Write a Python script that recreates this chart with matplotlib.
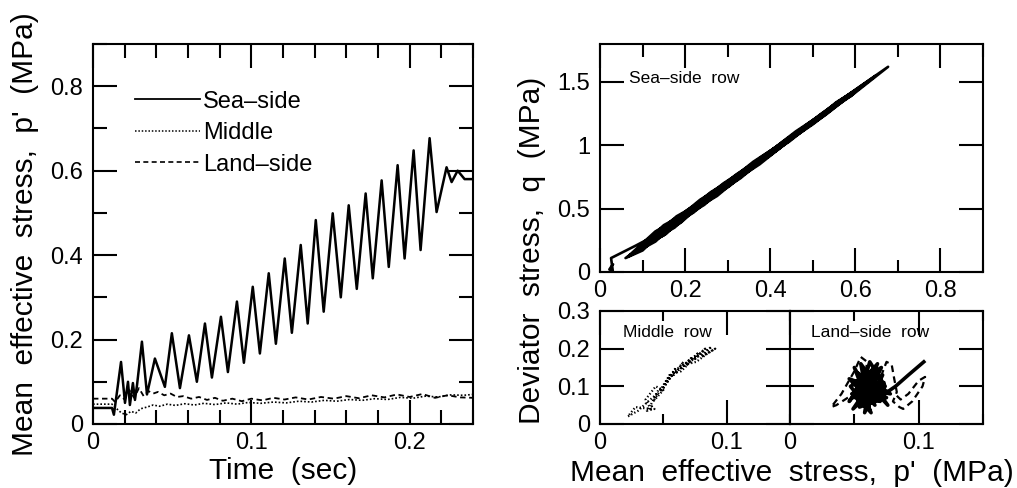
import matplotlib
matplotlib.use("Agg")
import matplotlib.pyplot as plt
from matplotlib.ticker import MultipleLocator, FuncFormatter, NullLocator
from matplotlib.lines import Line2D

plt.rcParams['font.family'] = ['Liberation Sans', 'DejaVu Sans']
plt.rcParams['axes.linewidth'] = 1.5

# ---- time histories of mean effective stress p' (MPa) ----
t_sea = [0, 0.012, 0.0132, 0.0177, 0.0202, 0.0221, 0.0233, 0.0252, 0.0265, 0.0278,
         0.0309, 0.0341, 0.0391, 0.0454, 0.0498, 0.0549, 0.0606, 0.0656, 0.0707, 0.0751,
         0.0808, 0.0852, 0.0909, 0.0953, 0.1009, 0.1054, 0.1110, 0.1155, 0.1211, 0.1256,
         0.1312, 0.1356, 0.1407, 0.1457, 0.1514, 0.1565, 0.1615, 0.1666, 0.1722, 0.1767,
         0.1823, 0.1868, 0.1924, 0.1968, 0.2025, 0.2069, 0.2126, 0.2170, 0.2233, 0.2265,
         0.2303, 0.2347, 0.2397]
p_sea = [0.038, 0.038, 0.022, 0.147, 0.050, 0.100, 0.045, 0.097, 0.057, 0.092,
         0.195, 0.070, 0.155, 0.088, 0.215, 0.085, 0.210, 0.100, 0.238, 0.110,
         0.254, 0.123, 0.290, 0.145, 0.325, 0.167, 0.357, 0.190, 0.392, 0.216,
         0.424, 0.238, 0.483, 0.266, 0.499, 0.300, 0.518, 0.320, 0.546, 0.345,
         0.577, 0.372, 0.613, 0.392, 0.648, 0.412, 0.677, 0.502, 0.608, 0.573,
         0.600, 0.580, 0.580]

t_mid = [0, 0.012, 0.015, 0.018, 0.021, 0.024, 0.027, 0.030, 0.034, 0.038,
         0.042, 0.047, 0.052, 0.058, 0.064, 0.070, 0.077, 0.084, 0.091, 0.098,
         0.106, 0.114, 0.122, 0.130, 0.138, 0.146, 0.154, 0.162, 0.170, 0.178,
         0.186, 0.194, 0.202, 0.210, 0.218, 0.226, 0.234, 0.240]
p_mid = [0.047, 0.047, 0.036, 0.026, 0.022, 0.030, 0.026, 0.036, 0.040, 0.045,
         0.042, 0.047, 0.044, 0.048, 0.045, 0.049, 0.046, 0.050, 0.047, 0.051,
         0.049, 0.052, 0.050, 0.054, 0.052, 0.056, 0.054, 0.058, 0.056, 0.060,
         0.058, 0.063, 0.061, 0.066, 0.064, 0.069, 0.068, 0.070]

t_land = [0, 0.012, 0.014, 0.017, 0.020, 0.023, 0.026, 0.029, 0.032, 0.035,
          0.038, 0.041, 0.045, 0.049, 0.053, 0.057, 0.062, 0.067, 0.072, 0.077,
          0.082, 0.088, 0.094, 0.100, 0.107, 0.114, 0.121, 0.128, 0.136, 0.144,
          0.152, 0.160, 0.168, 0.176, 0.184, 0.192, 0.200, 0.208, 0.216, 0.224,
          0.232, 0.240]
p_land = [0.060, 0.060, 0.052, 0.068, 0.058, 0.080, 0.062, 0.085, 0.066, 0.078,
          0.072, 0.076, 0.068, 0.072, 0.064, 0.066, 0.060, 0.064, 0.057, 0.062,
          0.055, 0.060, 0.054, 0.060, 0.056, 0.062, 0.058, 0.063, 0.058, 0.064,
          0.060, 0.066, 0.061, 0.068, 0.063, 0.070, 0.064, 0.071, 0.062, 0.068,
          0.063, 0.062]

# ---- stress paths (p', q) in MPa ----
sea_path_p = [0.030, 0.022, 0.030, 0.026, 0.085, 0.147, 0.100, 0.060, 0.100, 0.065,
              0.130, 0.195, 0.130, 0.070, 0.155, 0.088, 0.150, 0.215, 0.150, 0.085,
              0.150, 0.210, 0.155, 0.100, 0.170, 0.238, 0.175, 0.110, 0.180, 0.254,
              0.190, 0.123, 0.205, 0.290, 0.220, 0.145, 0.235, 0.325, 0.245, 0.167,
              0.260, 0.357, 0.275, 0.190, 0.290, 0.392, 0.305, 0.216, 0.320, 0.424,
              0.330, 0.238, 0.360, 0.483, 0.375, 0.266, 0.380, 0.499, 0.400, 0.300,
              0.410, 0.518, 0.420, 0.320, 0.430, 0.546, 0.445, 0.345, 0.460, 0.577,
              0.475, 0.372, 0.490, 0.613, 0.500, 0.392, 0.520, 0.648, 0.530, 0.412,
              0.545, 0.677, 0.590, 0.502, 0.555, 0.608, 0.590, 0.573, 0.600, 0.580]
sea_path_q = [0.060, 0.020, 0.010, 0.110, 0.210, 0.320, 0.170, 0.110, 0.200, 0.120,
              0.320, 0.440, 0.240, 0.130, 0.340, 0.180, 0.370, 0.490, 0.290, 0.170,
              0.360, 0.470, 0.300, 0.200, 0.410, 0.540, 0.350, 0.230, 0.440, 0.580,
              0.390, 0.260, 0.490, 0.670, 0.470, 0.320, 0.570, 0.760, 0.530, 0.370,
              0.630, 0.830, 0.600, 0.430, 0.700, 0.920, 0.680, 0.490, 0.770, 1.000,
              0.740, 0.540, 0.870, 1.140, 0.850, 0.610, 0.910, 1.180, 0.920, 0.700,
              0.980, 1.230, 0.970, 0.740, 1.030, 1.300, 1.030, 0.810, 1.110, 1.370,
              1.110, 0.870, 1.175, 1.460, 1.165, 0.920, 1.250, 1.550, 1.240, 0.970,
              1.310, 1.620, 1.390, 1.190, 1.340, 1.450, 1.390, 1.360, 1.430, 1.380]

mid_path_p = [0.045, 0.038, 0.030, 0.022, 0.028, 0.040, 0.036, 0.044, 0.050, 0.042,
              0.055, 0.048, 0.060, 0.052, 0.066, 0.058, 0.072, 0.063, 0.078, 0.068,
              0.083, 0.074, 0.088, 0.080, 0.091, 0.084, 0.076, 0.070, 0.064, 0.058,
              0.050, 0.046, 0.040, 0.043, 0.037, 0.041]
mid_path_q = [0.080, 0.060, 0.035, 0.020, 0.045, 0.040, 0.065, 0.100, 0.090, 0.060,
              0.130, 0.085, 0.150, 0.110, 0.165, 0.130, 0.175, 0.145, 0.190, 0.155,
              0.200, 0.170, 0.205, 0.178, 0.200, 0.185, 0.165, 0.160, 0.140, 0.135,
              0.095, 0.090, 0.050, 0.040, 0.035, 0.050]

land_solid_p = [0.060, 0.050, 0.066, 0.046, 0.070, 0.055, 0.062, 0.048, 0.072, 0.058,
                0.064, 0.046, 0.068, 0.054, 0.075, 0.052, 0.063, 0.047, 0.071, 0.060,
                0.066, 0.049, 0.069, 0.057, 0.076, 0.053, 0.065, 0.049, 0.073, 0.059,
                0.067, 0.051, 0.070, 0.061, 0.078, 0.056, 0.062, 0.074, 0.065, 0.082,
                0.092, 0.104]
land_solid_q = [0.060, 0.150, 0.050, 0.120, 0.090, 0.160, 0.035, 0.080, 0.130, 0.030,
                0.145, 0.060, 0.160, 0.045, 0.070, 0.115, 0.030, 0.100, 0.150, 0.070,
                0.125, 0.040, 0.105, 0.140, 0.050, 0.135, 0.080, 0.070, 0.110, 0.040,
                0.155, 0.090, 0.060, 0.120, 0.080, 0.095, 0.165, 0.100, 0.060, 0.100,
                0.130, 0.165]

land_dash_p = [0.045, 0.036, 0.032, 0.040, 0.050, 0.055, 0.060, 0.058, 0.062, 0.070,
               0.075, 0.079, 0.081, 0.083, 0.080, 0.085, 0.088, 0.095, 0.103, 0.105,
               0.100, 0.092, 0.086, 0.083]
land_dash_q = [0.070, 0.050, 0.045, 0.080, 0.140, 0.178, 0.165, 0.120, 0.090, 0.120,
               0.165, 0.158, 0.120, 0.085, 0.060, 0.045, 0.040, 0.060, 0.100, 0.125,
               0.115, 0.080, 0.065, 0.075]

series_labels = ['Sea\u2013side', 'Middle', 'Land\u2013side']

W, H = 1017, 488
fig = plt.figure(figsize=(W / 100, H / 100), dpi=100)


def box(x0, y0, x1, y1):
    return [x0 / W, 1 - y1 / H, (x1 - x0) / W, (y1 - y0) / H]


def fmt(v, pos):
    return f"{round(v, 3):g}"


def style(ax, fs=17, major_len=15, minor_len=8):
    ax.tick_params(which='both', direction='in', top=True, right=True,
                   labelsize=fs, width=1.5, colors='black')
    ax.tick_params(which='major', length=major_len)
    ax.tick_params(which='minor', length=minor_len)
    ax.tick_params(axis='x', pad=6)
    ax.tick_params(axis='y', pad=7)
    ax.xaxis.set_major_formatter(FuncFormatter(fmt))
    ax.yaxis.set_major_formatter(FuncFormatter(fmt))


# ---- left panel: time histories ----
ax1 = fig.add_axes(box(93, 44, 473, 424))
ax1.plot(t_sea, p_sea, color='black', lw=1.8, ls='-', solid_joinstyle='round')
ax1.plot(t_mid, p_mid, color='black', lw=1.2, ls=(0, (1, 1.2)))
ax1.plot(t_land, p_land, color='black', lw=1.3, ls=(0, (3, 2)))
ax1.set_xlim(0, 0.24)
ax1.set_ylim(0, 0.9)
ax1.xaxis.set_major_locator(MultipleLocator(0.1))
ax1.xaxis.set_minor_locator(MultipleLocator(0.02))
ax1.yaxis.set_major_locator(MultipleLocator(0.2))
ax1.yaxis.set_minor_locator(MultipleLocator(0.1))
style(ax1, major_len=17, minor_len=10)
ax1.set_xlabel('Time  (sec)', fontsize=21.5, labelpad=2)
ax1.set_ylabel("Mean  effective  stress,  p'  (MPa)", fontsize=21.5, labelpad=8)

handles = [Line2D([], [], color='black', lw=1.3, ls='-'),
           Line2D([], [], color='black', lw=1.1, ls=(0, (1, 1.2))),
           Line2D([], [], color='black', lw=1.2, ls=(0, (3, 2)))]
ax1.legend(handles, series_labels, loc='upper left', bbox_to_anchor=(0.11, 0.877),
           frameon=False, fontsize=17, handlelength=2.75, handletextpad=0.15,
           labelspacing=0.4, borderpad=0, borderaxespad=0)

# ---- top right: sea-side row stress path ----
ax2 = fig.add_axes(box(600, 44, 983, 272))
ax2.plot(sea_path_p, sea_path_q, color='black', lw=1.9, solid_joinstyle='round')
ax2.set_xlim(0, 0.9)
ax2.set_ylim(0, 1.8)
ax2.xaxis.set_major_locator(MultipleLocator(0.2))
ax2.xaxis.set_minor_locator(MultipleLocator(0.1))
ax2.yaxis.set_major_locator(MultipleLocator(0.5))
ax2.yaxis.set_minor_locator(NullLocator())
style(ax2, major_len=17, minor_len=9)
ax2.text(0.075, 0.85, 'Sea\u2013side  row', transform=ax2.transAxes,
         fontsize=12.5, va='center', ha='left')

# ---- bottom right: middle and land-side rows ----
ax3 = fig.add_axes(box(600, 311, 790, 424))
ax3.plot(mid_path_p, mid_path_q, color='black', lw=1.6, ls=(0, (0.6, 1.0)))
ax4 = fig.add_axes(box(790, 311, 983, 424))
ax4.plot(land_solid_p, land_solid_q, color='black', lw=2.6, solid_joinstyle='round')
ax4.plot(land_dash_p, land_dash_q, color='black', lw=1.6, ls=(0, (3, 2)))

for ax in (ax3, ax4):
    ax.set_xlim(0, 0.15)
    ax.set_ylim(0, 0.3)
    ax.xaxis.set_major_locator(MultipleLocator(0.1))
    ax.xaxis.set_minor_locator(MultipleLocator(0.05))
    ax.yaxis.set_major_locator(MultipleLocator(0.1))
    ax.yaxis.set_minor_locator(NullLocator())
    style(ax, major_len=17, minor_len=7)
ax4.tick_params(axis='y', labelleft=False)

ax3.text(0.12, 0.81, 'Middle  row', transform=ax3.transAxes,
         fontsize=12.5, va='center', ha='left')
ax4.text(0.11, 0.81, 'Land\u2013side  row', transform=ax4.transAxes,
         fontsize=12.5, va='center', ha='left')

fig.text(532 / W, 1 - 250 / H, 'Deviator  stress,  q  (MPa)', rotation=90,
         fontsize=21.5, ha='center', va='center')
fig.text(792 / W, 1 - 473 / H, "Mean  effective  stress,  p'  (MPa)",
         fontsize=21.5, ha='center', va='center')

fig.savefig('out.png', dpi=100)
